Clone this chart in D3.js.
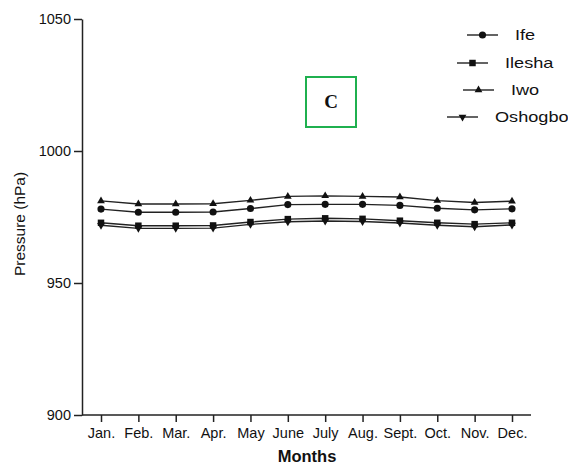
<!DOCTYPE html>
<html lang="en">
<head>
  <meta charset="UTF-8">
  <title>Pressure by month</title>
  <script src="https://d3js.org/d3.v7.min.js"></script>
  <style>
    body { margin: 0; background: #fff; }
    svg { display: block; }
    svg text { font-family: Arial, "Liberation Sans", sans-serif; fill: #111; }
    .axis path, .axis line { stroke: #222; stroke-width: 1.5; }
  </style>
</head>
<body>
  <svg width="568" height="468"></svg>
  <script>
    const months = ["Jan.", "Feb.", "Mar.", "Apr.", "May", "June", "July", "Aug.", "Sept.", "Oct.", "Nov.", "Dec."];
    const ife     = [978.0, 976.8, 976.8, 976.9, 978.2, 979.7, 979.8, 979.8, 979.4, 978.3, 977.7, 978.1];
    const ilesha  = [972.8, 971.7, 971.7, 971.8, 973.1, 974.2, 974.5, 974.3, 973.6, 972.8, 972.3, 972.8];
    const iwo     = [981.1, 979.9, 979.9, 980.0, 981.3, 982.8, 983.0, 982.8, 982.6, 981.2, 980.5, 981.0];
    const oshogbo = [971.9, 970.7, 970.7, 970.8, 972.2, 973.2, 973.5, 973.3, 972.7, 971.9, 971.3, 972.0];
    const yTicks = [900, 950, 1000, 1050];

    const series = [
      {name: "Ife", values: ife, symbol: d3.symbolCircle, size: 40, rot: 0, legendY: 35, lx: 467},
      {name: "Ilesha", values: ilesha, symbol: d3.symbolSquare, size: 42, rot: 0, legendY: 63, lx: 457},
      {name: "Iwo", values: iwo, symbol: d3.symbolTriangle, size: 26, rot: 0, legendY: 90, lx: 463},
      {name: "Oshogbo", values: oshogbo, symbol: d3.symbolTriangle, size: 26, rot: 180, legendY: 117, lx: 447}
    ];

    const svg = d3.select("svg");
    const plotLeft = 82, plotRight = 531, plotTop = 19, plotBottom = 415;

    const x = d3.scalePoint().domain(months).range([101, 512]);
    const y = d3.scaleLinear().domain([900, 1050]).range([plotBottom, plotTop]);

    // Y axis
    svg.append("g")
      .attr("class", "axis")
      .attr("transform", `translate(${plotLeft},0)`)
      .call(d3.axisLeft(y).tickValues(yTicks).tickFormat(d3.format("d")).tickSize(8).tickSizeOuter(0).tickPadding(3))
      .call(g => g.selectAll("text").attr("font-size", 14.5).attr("fill", "#111"));

    // X axis
    const xAxis = svg.append("g")
      .attr("class", "axis")
      .attr("transform", `translate(0,${plotBottom})`)
      .call(d3.axisBottom(x).tickSize(7).tickSizeOuter(0).tickPadding(6));
    xAxis.select(".domain").attr("d", `M${plotLeft},0H${plotRight}`);
    xAxis.selectAll("text").attr("font-size", 14.5).attr("fill", "#111");

    svg.append("text")
      .attr("transform", `translate(25,224) rotate(-90)`)
      .attr("text-anchor", "middle")
      .attr("font-size", 15.5)
      .text("Pressure (hPa)");

    svg.append("text")
      .attr("x", 307).attr("y", 462)
      .attr("text-anchor", "middle")
      .attr("font-size", 16.5).attr("font-weight", "bold")
      .text("Months");

    const line = d3.line()
      .x((d, i) => x(months[i]))
      .y(d => y(d));

    series.forEach(s => {
      svg.append("path")
        .attr("d", line(s.values))
        .attr("fill", "none")
        .attr("stroke", "#222")
        .attr("stroke-width", 1.4);
      svg.selectAll(null)
        .data(s.values)
        .join("path")
        .attr("d", d3.symbol(s.symbol, s.size))
        .attr("transform", (d, i) => `translate(${x(months[i])},${y(d)}) rotate(${s.rot})`)
        .attr("fill", "#111");

      // legend
      svg.append("line")
        .attr("x1", s.lx).attr("x2", s.lx + 31)
        .attr("y1", s.legendY).attr("y2", s.legendY)
        .attr("stroke", "#222").attr("stroke-width", 1.4);
      svg.append("path")
        .attr("d", d3.symbol(s.symbol, s.size))
        .attr("transform", `translate(${s.lx + 15.5},${s.legendY}) rotate(${s.rot})`)
        .attr("fill", "#111");
      svg.append("text")
        .attr("transform", `translate(${s.lx + 48},${s.legendY + 5}) scale(1.25,1)`)
        .attr("font-size", 14.5)
        .text(s.name);
    });

    // panel label
    svg.append("rect")
      .attr("x", 306).attr("y", 77).attr("width", 50).attr("height", 50)
      .attr("fill", "none").attr("stroke", "#1fb04f").attr("stroke-width", 2);
    svg.append("text")
      .attr("x", 331).attr("y", 108)
      .attr("text-anchor", "middle")
      .attr("font-size", 19).attr("font-weight", "bold")
      .style("font-family", "'Liberation Serif', 'DejaVu Serif', serif")
      .text("C");
  </script>
</body>
</html>
